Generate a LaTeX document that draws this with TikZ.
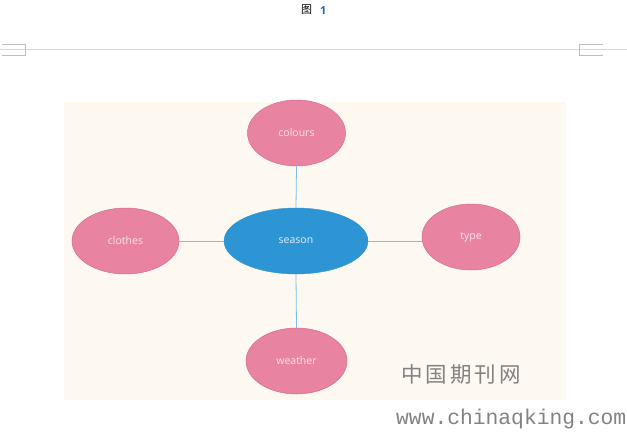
\documentclass[tikz,border=0pt]{standalone}
\usepackage{fontspec}
\setmainfont{Open Sans}
\newfontfamily\cjkfont{Noto Sans CJK SC}
\newfontfamily\monofont{Liberation Mono}
\usetikzlibrary{shapes.geometric}
\pgfdeclarelayer{bg}
\pgfdeclarelayer{links}
\pgfsetlayers{bg,links,main}
\definecolor{bgcream}{RGB}{253,248,240}
\definecolor{pinkfill}{RGB}{232,132,162}
\definecolor{pinkdraw}{RGB}{210,110,140}
\definecolor{bluefill}{RGB}{46,149,212}
\definecolor{linkblue}{RGB}{125,192,232}
\definecolor{pinktext}{RGB}{252,225,235}
\definecolor{bluetext}{RGB}{225,240,252}
\definecolor{ruleGray}{RGB}{215,215,215}
\definecolor{markGray}{RGB}{190,190,190}
\definecolor{wmGray}{RGB}{130,130,130}
\definecolor{numBlue}{RGB}{30,100,190}
\tikzset{
  leaf/.style={ellipse, fill=pinkfill, draw=pinkdraw, line width=0.5pt, inner sep=0pt,
    text=pinktext, font=\fontsize{10.5}{12}\selectfont},
  hub/.style={ellipse, fill=bluefill, draw=bluefill, inner sep=0pt,
    text=bluetext, font=\fontsize{10.5}{12}\selectfont},
  link/.style={draw=linkblue, line width=0.8pt},
  marks/.style={draw=markGray, line width=0.8pt}
}
\begin{document}
\begin{tikzpicture}[x=1pt,y=-1pt]
\useasboundingbox (0,0) rectangle (627,432);
\begin{pgfonlayer}{bg}
\fill[white] (0,0) rectangle (627,432);
\fill[bgcream] (64,102) rectangle (566,399.5);
\end{pgfonlayer}
% header
\node[inner sep=0pt, font=\cjkfont\fontsize{11}{12}\selectfont] (fig) at (306.5,10) {图};
\node[inner sep=0pt, text=numBlue, font=\bfseries\fontsize{11}{12}\selectfont, anchor=west] (num) at (320,10.5) {1};
\draw[draw=ruleGray, line width=0.8pt] (0,49) -- (627,49);
\draw[marks] (2,44) -- (25,44) -- (25,55) -- (2,55);
\draw[marks] (603,44) -- (579,44) -- (579,55) -- (603,55);
% nodes
\node[hub, minimum width=144pt, minimum height=66pt] (season) at (296,241) {season};
\node[leaf, minimum width=98pt, minimum height=66pt] (colours) at (296.5,133) {colours};
\node[leaf, minimum width=107pt, minimum height=66pt] (clothes) at (125.5,241) {clothes};
\node[leaf, minimum width=98pt, minimum height=66pt] (type) at (471,237) {type};
\node[leaf, minimum width=101pt, minimum height=66pt] (weather) at (296.5,361) {weather};
% connectors
\begin{pgfonlayer}{links}
\path[link] (season.north) -- (colours.south);
\path[link] (season.south) -- (weather.north);
\path[link] (season.west) -- (clothes.east);
\path[link] (season.east) -- (type.center |- season.east);
\end{pgfonlayer}
% watermark
\node[inner sep=0pt, text=wmGray, font=\cjkfont\fontsize{21.5}{22}\selectfont, anchor=west] (wm1) at (401,374) {中\hspace{3pt}国\hspace{3pt}期\hspace{3pt}刊\hspace{3pt}网};
\node[inner sep=0pt, text=wmGray, font=\monofont\fontsize{21.3}{22}\selectfont, anchor=west] (wm2) at (396,419) {www.chinaqking.com};
\end{tikzpicture}
\end{document}
